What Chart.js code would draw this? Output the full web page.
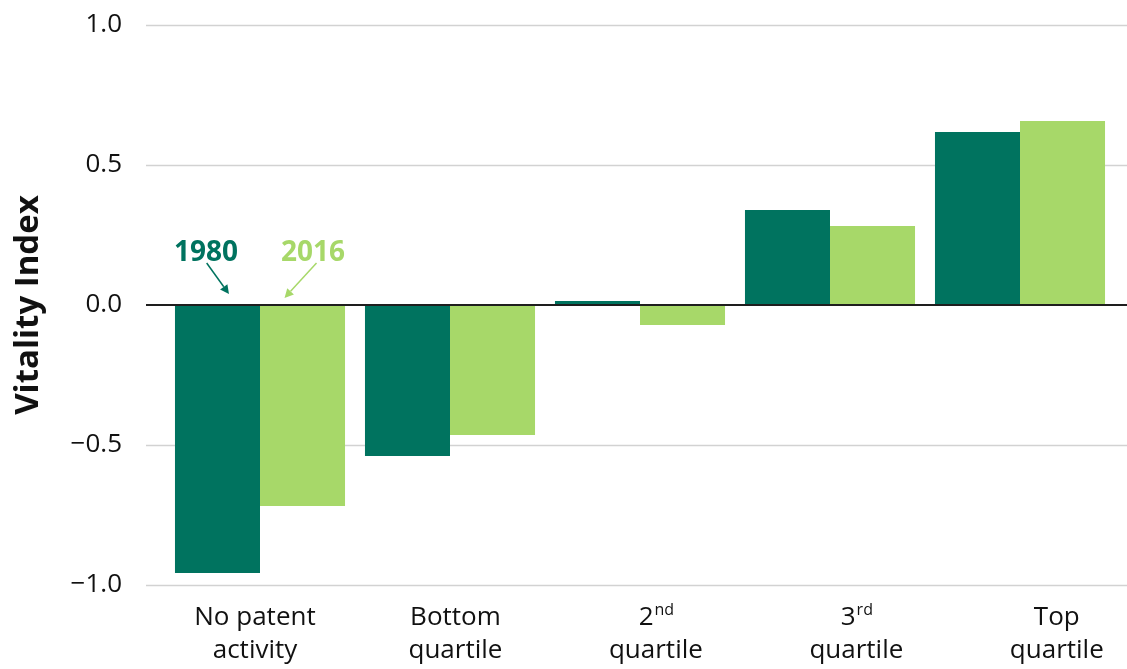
<!DOCTYPE html>
<html><head><meta charset="utf-8">
<script src="https://cdn.jsdelivr.net/npm/chart.js@4"></script>
<style>html,body{margin:0;padding:0;background:#fff}#wrap{width:1127px;height:669px;position:relative}</style>
</head><body><div id="wrap"><canvas id="c"></canvas></div>
<script>
const categories = [["No patent","activity"],["Bottom","quartile"],["2nd","quartile"],["3rd","quartile"],["Top","quartile"]];
const series1980 = [-0.957, -0.539, 0.014, 0.339, 0.618];
const series2016 = [-0.718, -0.464, -0.071, 0.282, 0.657];
const seriesNames = ["1980", "2016"];
const yTickValues = [-1, -0.5, 0, 0.5, 1];
const yTitle = "Vitality Index";

const FONT = "'Open Sans', 'Noto Sans', sans-serif";
const C1980 = "#00735f";
const C2016 = "#a7d869";

const gridPlugin = {
  id: 'fullGrid',
  beforeDatasetsDraw(chart, args, opts) {
    const y = chart.scales.y, ctx = chart.ctx;
    ctx.save();
    ctx.strokeStyle = opts.color; ctx.lineWidth = opts.width;
    yTickValues.forEach(v => {
      if (v === 0) return;
      const py = Math.round(y.getPixelForValue(v)) + 0.5;
      ctx.beginPath(); ctx.moveTo(opts.left, py); ctx.lineTo(chart.width, py); ctx.stroke();
    });
    ctx.restore();
  },
  afterDatasetsDraw(chart, args, opts) {
    const y = chart.scales.y, ctx = chart.ctx;
    const py = y.getPixelForValue(0);
    ctx.save();
    ctx.strokeStyle = opts.zeroColor; ctx.lineWidth = opts.zeroWidth;
    ctx.beginPath(); ctx.moveTo(opts.left, py); ctx.lineTo(chart.width, py); ctx.stroke();
    ctx.restore();
  }
};

const xLabelPlugin = {
  id: 'xLabels',
  afterDraw(chart, args, opts) {
    const x = chart.scales.x, ctx = chart.ctx;
    const bottom = chart.chartArea.bottom;
    ctx.save();
    ctx.fillStyle = opts.color;
    ctx.textBaseline = 'alphabetic';
    categories.forEach((lines, i) => {
      const cx = x.getPixelForValue(i) * opts.spread + opts.shift;
      lines.forEach((line, li) => {
        const by = bottom + opts.firstBaseline + li * opts.lineGap;
        const m = /^(\d+)(st|nd|rd|th)$/.exec(line);
        if (m) {
          ctx.font = opts.size + 'px ' + FONT;
          const w1 = ctx.measureText(m[1]).width;
          ctx.font = opts.supSize + 'px ' + FONT;
          const w2 = ctx.measureText(m[2]).width;
          const left = cx - (w1 + w2) / 2;
          ctx.textAlign = 'left';
          ctx.font = opts.size + 'px ' + FONT;
          ctx.fillText(m[1], left, by);
          ctx.font = opts.supSize + 'px ' + FONT;
          ctx.fillText(m[2], left + w1 + 1, by - opts.supRaise);
        } else {
          ctx.textAlign = 'center';
          ctx.font = opts.size + 'px ' + FONT;
          ctx.fillText(line, cx, by);
        }
      });
    });
    ctx.restore();
  }
};

const annotPlugin = {
  id: 'seriesNotes',
  afterDraw(chart, args, opts) {
    const y = chart.scales.y, ctx = chart.ctx;
    const colors = [C1980, C2016];
    ctx.save();
    opts.notes.forEach((n, di) => {
      const bar = chart.getDatasetMeta(di).data[0];
      const bx = bar.x;
      ctx.fillStyle = colors[di]; ctx.strokeStyle = colors[di];
      ctx.font = 'bold ' + opts.size + 'px ' + FONT;
      ctx.textAlign = 'center'; ctx.textBaseline = 'alphabetic';
      ctx.fillText(seriesNames[di], bx + n.textDx, y.getPixelForValue(opts.textValue));
      const x0 = bx + n.fromDx, y0 = y.getPixelForValue(opts.fromValue);
      const x1 = bx + n.toDx, y1 = y.getPixelForValue(n.toValue);
      const ang = Math.atan2(y1 - y0, x1 - x0);
      const hl = 9, hw = 4.5;
      const sx = x1 - hl * Math.cos(ang), sy = y1 - hl * Math.sin(ang);
      ctx.lineWidth = 1.5;
      ctx.beginPath(); ctx.moveTo(x0, y0); ctx.lineTo(sx, sy); ctx.stroke();
      ctx.beginPath();
      ctx.moveTo(x1, y1);
      ctx.lineTo(sx + hw * Math.sin(ang), sy - hw * Math.cos(ang));
      ctx.lineTo(sx - hw * Math.sin(ang), sy + hw * Math.cos(ang));
      ctx.closePath(); ctx.fill();
    });
    ctx.restore();
  }
};

new Chart(document.getElementById('c'), {
  type: 'bar',
  data: {
    labels: categories,
    datasets: [
      { label: seriesNames[0], data: series1980, backgroundColor: C1980, borderWidth: 0, barPercentage: 1.0, categoryPercentage: 0.895 },
      { label: seriesNames[1], data: series2016, backgroundColor: C2016, borderWidth: 0, barPercentage: 1.0, categoryPercentage: 0.895 }
    ]
  },
  options: {
    responsive: true, maintainAspectRatio: false, animation: false,
    layout: { padding: { top: 25, right: 12, left: 0, bottom: 0 } },
    plugins: {
      legend: { display: false }, tooltip: { enabled: false },
      fullGrid: { color: '#d2d2d2', width: 1.3, left: 146, zeroColor: '#1e1e1e', zeroWidth: 1.8 },
      xLabels: { color: '#111', size: 26, supSize: 16, supRaise: 10, firstBaseline: 40, lineGap: 33, spread: 1.055, shift: -19.3 },
      seriesNotes: {
        size: 28, textValue: 0.158, fromValue: 0.15,
        notes: [
          { textDx: -11.5, fromDx: -10.8, toDx: 11.5, toValue: 0.039 },
          { textDx: 10.5, fromDx: 14, toDx: -18, toValue: 0.025 }
        ]
      }
    },
    scales: {
      x: {
        grid: { display: false }, border: { display: false },
        ticks: { display: false },
        afterFit: s => { s.height = 84; s.paddingLeft = 0; s.paddingRight = 0; }
      },
      y: {
        min: -1, max: 1,
        afterBuildTicks: s => { s.ticks = yTickValues.map(v => ({ value: v })); },
        grid: { display: false }, border: { display: false },
        ticks: {
          padding: 35, color: '#111',
          font: { family: FONT, size: 26 },
          callback: v => (v < 0 ? '\u2212' : '') + Math.abs(v).toFixed(1)
        },
        title: { display: true, text: yTitle, color: '#111', font: { family: FONT, size: 33, weight: 'bold' }, padding: { top: 9, bottom: 0 } },
        afterFit: s => { s.width = 165; s.paddingTop = 0; s.paddingBottom = 0; }
      }
    }
  },
  plugins: [gridPlugin, xLabelPlugin, annotPlugin]
});
</script>
</body></html>
